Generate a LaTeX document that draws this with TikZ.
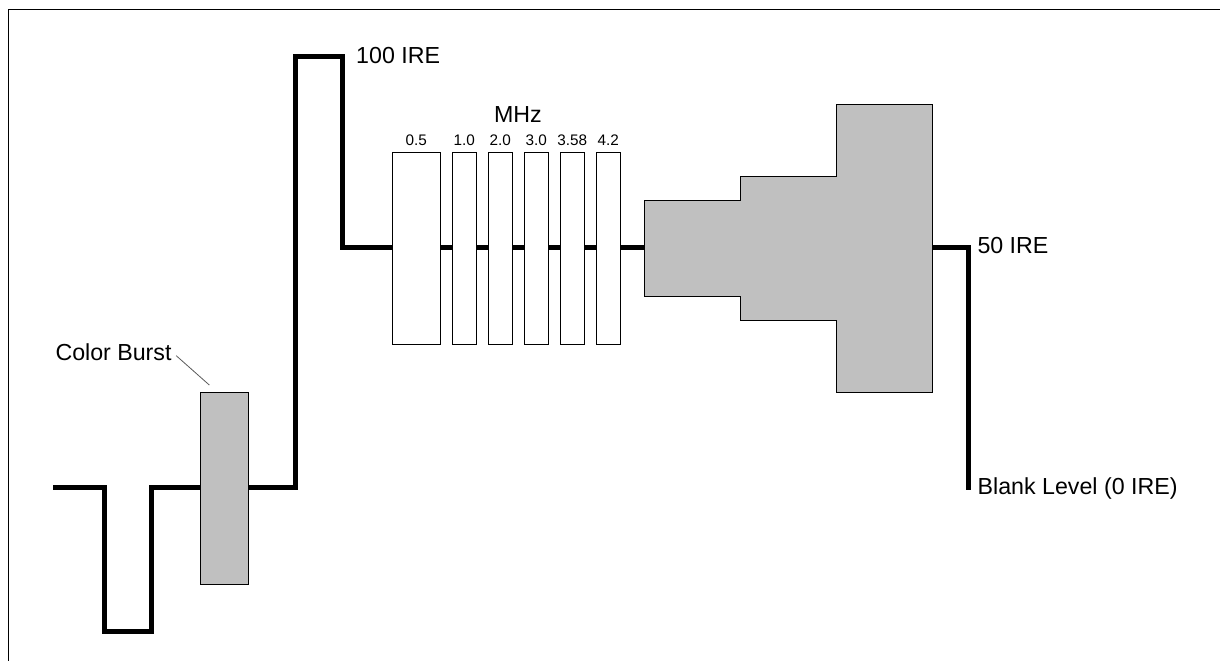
\documentclass[tikz,border=0pt]{standalone}
\usepackage{fontspec}
\setmainfont{Liberation Sans}
\definecolor{sig-grey}{RGB}{192,192,192}
\definecolor{lead-grey}{RGB}{90,90,90}

\begin{document}
\begin{tikzpicture}[x=1pt,y=-1pt,
  signal/.style={line width=5pt, line join=miter},
  freqbox/.style={draw, fill=white, line width=1pt, minimum width=24pt, minimum height=191.3pt, inner sep=0pt},
  burstbox/.style={draw, fill=sig-grey, line width=1pt, minimum width=48.3pt, minimum height=192pt, inner sep=0pt},
  lbl/.style={inner sep=0pt, anchor=base west, font=\fontsize{23.2}{27}\selectfont},
  freqlbl/.style={inner sep=0pt, anchor=base, font=\fontsize{15.3}{18}\selectfont}]
\useasboundingbox (0,0) rectangle (1220,661);
%Rahmen:
\draw[line width=1pt] (1220,9.3) -- (8.3,9.3) -- (8.3,661);
%Signalverlauf:
\draw[signal] (53,487.7) -- (104,487.7) -- (104,631.3) -- (151.7,631.3) -- (151.7,487.7)
  -- (295,487.7) -- (295,56.5) -- (342.5,56.5) -- (342.5,247.7) -- (968,247.7) -- (968,490);
%Burst:
\node[burstbox] (burst) at (224.15,488.3) {};
\node[lbl] (burst-lbl) at (55.3,360) {Color Burst};
\coordinate (burst-tip) at (209.3,385);
\draw[lead-grey, line width=0.8pt, shorten <=6pt] (burst-lbl.east) -- (burst-tip);
%Multiburst:
\node[freqlbl] (mhz) at (518,122.7) {\fontsize{23.2}{27}\selectfont MHz};
\foreach \cx/\w/\f [count=\i] in {416.3/48/0.5, 464.3/24/1.0, 500.3/24/2.0, 536.3/24/3.0, 572.3/24/3.58, 608.3/24/4.2}{
  \node[freqbox, minimum width=\w pt] (f\i) at (\cx,248.35) {};
  \node[freqlbl] (f\i-lbl) at (\cx,145) {\f};
}
%Treppe:
\filldraw[fill=sig-grey, line width=1pt] (644.3,200.3) -- (740.3,200.3) -- (740.3,176.3) -- (836.3,176.3)
  -- (836.3,104.3) -- (932.3,104.3) -- (932.3,392.3) -- (836.3,392.3) -- (836.3,320)
  -- (740.3,320) -- (740.3,296.3) -- (644.3,296.3) -- cycle;
%Pegel:
\node[lbl] (ire100) at (356,63.3) {100 IRE};
\node[lbl] (ire50) at (977.3,253.3) {50 IRE};
\node[lbl] (blank) at (977.5,494.3) {Blank Level (0 IRE)};
\end{tikzpicture}
\end{document}
